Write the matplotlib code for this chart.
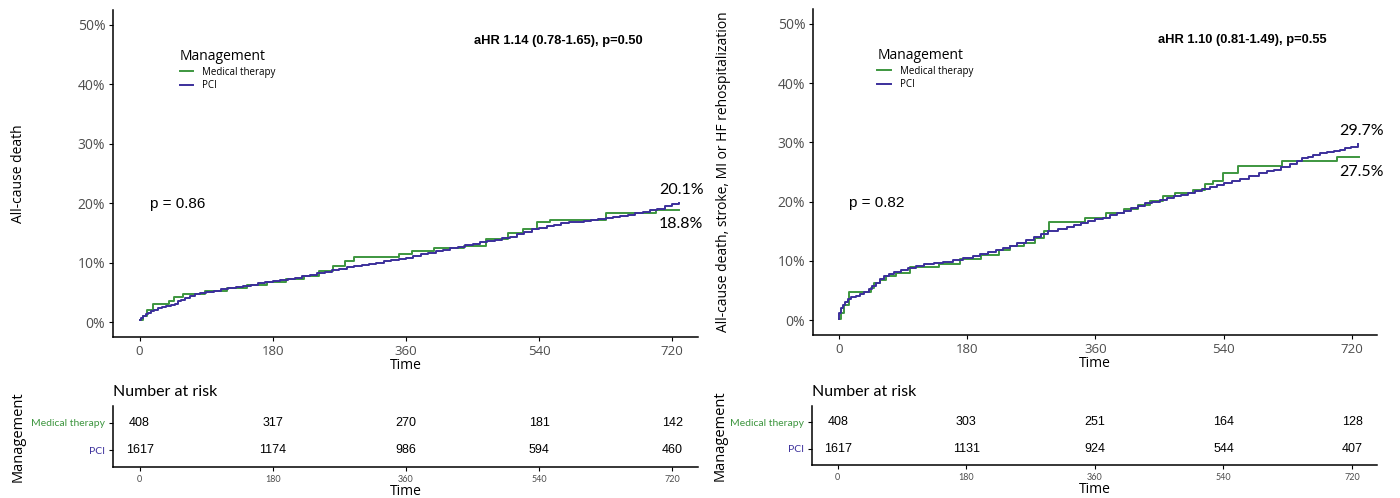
import matplotlib.pyplot as plt
from matplotlib.ticker import PercentFormatter

groups = ['Medical therapy', 'PCI']
colors = ['#3d963f', '#3b2f9b']
time_ticks = [0, 180, 360, 540, 720]

# panel 1: all-cause death (cumulative incidence, %)
t1_med = [0, 4, 10, 18, 40, 47, 58, 88, 118, 145, 172, 198, 222, 243, 262, 278, 290, 350,
          368, 398, 438, 468, 498, 518, 537, 555, 631, 698, 729]
v1_med = [0.3, 1.0, 2.0, 3.0, 3.5, 4.3, 4.8, 5.3, 5.7, 6.2, 6.8, 7.2, 7.8, 8.6, 9.4, 10.2, 11.0, 11.4,
          12.0, 12.4, 12.8, 13.9, 15.0, 15.6, 16.8, 17.2, 18.4, 18.9, 18.9]
t1_pci = [0, 2, 5, 8, 12, 16, 20, 25, 30, 36, 42, 48, 52, 56, 62, 68, 75, 82, 90, 100, 110, 120,
          130, 140, 150, 160, 170, 180, 190, 200, 210, 220, 230, 240, 250, 260, 270, 280, 290, 300,
          310, 320, 330, 340, 350, 360, 370, 380, 390, 400, 410, 420, 430, 440, 450, 460, 470, 480,
          490, 500, 510, 520, 530, 540, 550, 560, 570, 580, 590, 600, 610, 620, 630, 640, 650, 660,
          670, 680, 690, 700, 710, 720, 729]
v1_pci = [0.3, 0.7, 1.0, 1.3, 1.6, 1.9, 2.1, 2.3, 2.5, 2.7, 2.9, 3.1, 3.5, 3.8, 4.1, 4.4, 4.7, 4.9,
          5.1, 5.3, 5.5, 5.7, 5.9, 6.1, 6.3, 6.5, 6.7, 6.9, 7.1, 7.3, 7.5, 7.7, 8.0, 8.3, 8.5, 8.7,
          8.9, 9.2, 9.4, 9.6, 9.8, 10.0, 10.2, 10.4, 10.6, 10.8, 11.1, 11.4, 11.6, 11.9, 12.1, 12.4,
          12.6, 12.9, 13.1, 13.4, 13.6, 13.8, 14.1, 14.4, 14.8, 15.2, 15.6, 15.9, 16.2, 16.4, 16.6,
          16.8, 16.9, 17.0, 17.1, 17.3, 17.5, 17.6, 17.8, 18.0, 18.3, 18.6, 18.9, 19.1, 19.5, 19.8, 20.1]
risk1_med = [408, 317, 270, 181, 142]
risk1_pci = [1617, 1174, 986, 594, 460]

# panel 2: death, stroke, MI or HF rehospitalization
t2_med = [0, 3, 8, 14, 45, 50, 58, 66, 80, 100, 140, 170, 200, 225, 240, 260, 275, 288, 295, 345,
          375, 400, 420, 437, 455, 471, 497, 513, 525, 539, 560, 621, 698, 730]
v2_med = [0.2, 1.2, 2.5, 4.7, 5.5, 6.2, 6.8, 7.4, 8.0, 8.9, 9.4, 10.4, 11.0, 11.8, 12.5, 13.0, 13.8,
          15.0, 16.6, 17.3, 18.0, 18.8, 19.4, 20.1, 20.9, 21.5, 22.0, 22.9, 23.4, 24.8, 26.0, 26.8,
          27.5, 27.5]
t2_pci = [0, 1, 3, 6, 9, 13, 18, 24, 30, 36, 42, 47, 52, 58, 64, 70, 78, 87, 97, 108, 120, 133,
          146, 160, 174, 188, 198, 210, 220, 230, 240, 250, 262, 274, 284, 294, 307, 320, 330, 340,
          350, 360, 370, 380, 390, 400, 410, 420, 430, 440, 450, 460, 470, 480, 490, 500, 510, 520,
          530, 540, 552, 563, 575, 590, 600, 610, 620, 633, 642, 650, 658, 665, 675, 685, 695, 703,
          710, 718, 728]
v2_pci = [0.2, 1.2, 2.0, 2.6, 3.1, 3.6, 3.9, 4.1, 4.4, 4.8, 5.2, 5.7, 6.3, 6.9, 7.4, 7.8, 8.2, 8.5,
          8.8, 9.1, 9.4, 9.6, 9.9, 10.2, 10.5, 10.8, 11.1, 11.5, 11.8, 12.2, 12.6, 13.0, 13.5, 14.0,
          14.5, 15.0, 15.4, 15.8, 16.1, 16.4, 16.7, 17.0, 17.3, 17.7, 18.1, 18.5, 18.9, 19.3, 19.7,
          20.0, 20.3, 20.6, 20.9, 21.2, 21.5, 21.8, 22.2, 22.5, 22.8, 23.1, 23.5, 23.9, 24.3, 24.8,
          25.1, 25.4, 25.9, 26.4, 26.9, 27.3, 27.6, 27.9, 28.2, 28.4, 28.6, 28.7, 29.0, 29.3, 29.75]
risk2_med = [408, 303, 251, 164, 128]
risk2_pci = [1617, 1131, 924, 544, 407]

ylabels = ['All-cause death', 'All-cause death, stroke, MI or HF rehospitalization']
pvals = ['p = 0.86', 'p = 0.82']
ahrs = ['aHR 1.14 (0.78-1.65), p=0.50', 'aHR 1.10 (0.81-1.49), p=0.55']
end_labels = [('20.1%', '18.8%'), ('29.7%', '27.5%')]

calibri = 'Lato'
sans = 'Open Sans'
arial = 'Liberation Sans'
grey = '#4d4d4d'

fig = plt.figure(figsize=(14, 4.98), dpi=100)

main_pos = [[0.0807, 0.3233, 0.418, 0.6566], [0.5807, 0.3273, 0.403, 0.6546]]
table_pos = [[0.0807, 0.0622, 0.418, 0.1225], [0.58, 0.0663, 0.4036, 0.1185]]
curves = [(t1_med, v1_med, t1_pci, v1_pci), (t2_med, v2_med, t2_pci, v2_pci)]
risks = [(risk1_med, risk1_pci), (risk2_med, risk2_pci)]
end_y = [(22.2, 16.55), (31.9, 25.0)]
ylab_x = [-0.148, -0.145]

for i in range(2):
    ax = fig.add_axes(main_pos[i])
    tm, vm, tp, vp = curves[i]
    lm, = ax.step(tm, vm, where='post', color=colors[0], lw=1.4, label=groups[0])
    lp, = ax.step(tp, vp, where='post', color=colors[1], lw=1.4, label=groups[1])
    ax.set_xlim(-36, 755)
    ax.set_ylim(-2.5, 52.5)
    ax.set_xticks(time_ticks)
    ax.set_yticks([0, 10, 20, 30, 40, 50])
    ax.yaxis.set_major_formatter(PercentFormatter(decimals=0))
    for s in ['top', 'right']:
        ax.spines[s].set_visible(False)
    for s in ['left', 'bottom']:
        ax.spines[s].set_linewidth(1.1)
    ax.tick_params(length=3, width=0.8, pad=2.5, labelcolor=grey)
    for lab in ax.get_yticklabels():
        lab.set_family(sans)
        lab.set_fontsize(10)
    for lab in ax.get_xticklabels():
        lab.set_family(sans)
        lab.set_fontsize(9.5)
    ax.set_xlabel('Time', fontsize=10, family=sans, labelpad=0)
    ax.set_ylabel(ylabels[i], fontsize=10, family=sans)
    ax.yaxis.set_label_coords(ylab_x[i], 0.5)
    leg = ax.legend(handles=[lm, lp], loc='upper left', bbox_to_anchor=(0.114, 0.88),
                    frameon=False, title='Management', title_fontsize=10,
                    alignment='left', handlelength=1.4, handletextpad=0.9, labelspacing=0.25,
                    borderpad=0, borderaxespad=0, prop={'family': sans, 'size': 7})
    leg.get_title().set_family(sans)
    ax.text(14, 19.8, pvals[i], fontsize=11, family=arial, va='center', ha='left')
    ax.text(566, 47.3, ahrs[i], fontsize=9.3, family=arial, weight='bold', va='center', ha='center')
    ax.text(702, end_y[i][0], end_labels[i][0], fontsize=11.5, family=calibri, va='center', ha='left')
    ax.text(702, end_y[i][1], end_labels[i][1], fontsize=11.5, family=calibri, va='center', ha='left')

    # number at risk table
    tb = fig.add_axes(table_pos[i])
    rm, rp = risks[i]
    for t, n in zip(time_ticks, rm):
        tb.text(t, 2, str(n), ha='center', va='center', fontsize=9, family=arial)
    for t, n in zip(time_ticks, rp):
        tb.text(t, 1, str(n), ha='center', va='center', fontsize=9, family=arial)
    tb.set_xlim(-36, 755)
    tb.set_ylim(0.4, 2.6)
    tb.set_xticks(time_ticks)
    tb.set_yticks([1, 2])
    tb.set_yticklabels([groups[1], groups[0]])
    for lab, c in zip(tb.get_yticklabels(), [colors[1], colors[0]]):
        lab.set_color(c)
        lab.set_family(calibri)
        lab.set_fontsize(7.5)
    for lab in tb.get_xticklabels():
        lab.set_family(calibri)
        lab.set_fontsize(6.5)
        lab.set_color(grey)
    for s in ['top', 'right']:
        tb.spines[s].set_visible(False)
    for s in ['left', 'bottom']:
        tb.spines[s].set_linewidth(1.1)
    tb.tick_params(length=3, width=0.8, pad=2.5)
    tb.set_xlabel('Time', fontsize=10, family=sans, labelpad=0)
    tb.set_ylabel('Management', fontsize=10.5, family=sans)
    tb.yaxis.set_label_coords(-0.15, 0.5)
    tb.text(0, 1.23, 'Number at risk', transform=tb.transAxes, fontsize=11.5,
            family=calibri, va='center', ha='left')

fig.savefig('out.png', dpi=100)
